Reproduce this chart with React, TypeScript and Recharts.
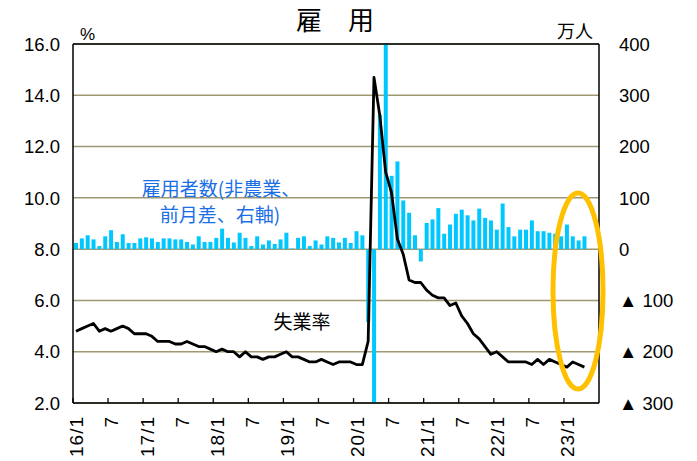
import React from 'react'
import {
  ComposedChart,
  Bar,
  Line,
  XAxis,
  YAxis,
  CartesianGrid,
  ReferenceLine,
} from 'recharts'

// 失業率 (%), 月次
const rate2016 = [4.8, 4.9, 5.0, 5.1, 4.8, 4.9, 4.8, 4.9, 5.0, 4.9, 4.7, 4.7]
const rate2017 = [4.7, 4.6, 4.4, 4.4, 4.4, 4.3, 4.3, 4.4, 4.3, 4.2, 4.2, 4.1]
const rate2018 = [4.0, 4.1, 4.0, 4.0, 3.8, 4.0, 3.8, 3.8, 3.7, 3.8, 3.8, 3.9]
const rate2019 = [4.0, 3.8, 3.8, 3.7, 3.6, 3.6, 3.7, 3.6, 3.5, 3.6, 3.6, 3.6]
const rate2020 = [3.5, 3.5, 4.4, 14.7, 13.2, 11.0, 10.2, 8.4, 7.8, 6.8, 6.7, 6.7]
const rate2021 = [6.4, 6.2, 6.1, 6.1, 5.8, 5.9, 5.4, 5.1, 4.7, 4.5, 4.2, 3.9]
const rate2022 = [4.0, 3.8, 3.6, 3.6, 3.6, 3.6, 3.5, 3.7, 3.5, 3.7, 3.6, 3.5]
const rate2023 = [3.4, 3.6, 3.5, 3.4]

// 雇用者数 (非農業、前月差、万人)
const jobs2016 = [12, 21, 27, 19, 6, 25, 37, 14, 29, 12, 12, 21]
const jobs2017 = [23, 21, 14, 21, 21, 19, 19, 14, 9, 25, 14, 14]
const jobs2018 = [22, 40, 22, 13, 32, 22, 6, 25, 9, 17, 10, 19]
const jobs2019 = [32, 1, 22, 25, 6, 17, 9, 25, 22, 13, 22, 12]
const jobs2020 = [35, 27, -142, -2050, 262, 485, 143, 171, 95, 71, 27, -24]
const jobs2021 = [51, 58, 80, 30, 48, 69, 77, 66, 56, 79, 61, 56]
const jobs2022 = [38, 89, 43, 25, 38, 38, 56, 35, 35, 32, 30, 25]
const jobs2023 = [48, 25, 17, 25]

const yearLabels = ['16', '17', '18', '19', '20', '21', '22', '23']
const MONTHS_SHOWN = 90 // 16/1 .. 23/6

const leftTicks = [2, 4, 6, 8, 10, 12, 14, 16]
const rightTicks = [-300, -200, -100, 0, 100, 200, 300, 400]

const rates = [
  ...rate2016, ...rate2017, ...rate2018, ...rate2019,
  ...rate2020, ...rate2021, ...rate2022, ...rate2023,
]
const jobs = [
  ...jobs2016, ...jobs2017, ...jobs2018, ...jobs2019,
  ...jobs2020, ...jobs2021, ...jobs2022, ...jobs2023,
]

const data = Array.from({ length: MONTHS_SHOWN }, (_, i) => ({
  month: `${yearLabels[Math.floor(i / 12)]}/${(i % 12) + 1}`,
  rate: rates[i],
  jobs: jobs[i],
}))

const W = 697
const H = 461
const PLOT_LEFT = 73
const PLOT_RIGHT = 599
const BAND = (PLOT_RIGHT - PLOT_LEFT) / MONTHS_SHOWN

const NUM_FONT = '"Liberation Sans", Arial, sans-serif'
const JP_FONT = '"Noto Sans CJK JP", sans-serif'

function MonthTick(props: any) {
  const { x, y, payload } = props
  const [yy, mm] = String(payload.value).split('/')
  if (mm !== '1' && mm !== '7') return <g />
  const label = mm === '1' ? `${yy}/1` : '7'
  const tx = x - BAND / 2
  return (
    <g>
      <line x1={tx} x2={tx} y1={y} y2={y - 5} stroke="#000" strokeWidth={1.3} />
      <text
        x={x + 1}
        y={y + 13}
        transform={`rotate(-90 ${x + 1} ${y + 13})`}
        textAnchor="end"
        dominantBaseline="central"
        fontFamily={NUM_FONT}
        fontSize={19}
        letterSpacing={1}
        fill="#000"
      >
        {label}
      </text>
    </g>
  )
}

function LeftTick(props: any) {
  const { x, y, payload } = props
  return (
    <text x={x - 13} y={y} dy="0.36em" textAnchor="end" fontFamily={NUM_FONT} fontSize={18.5} fill="#000">
      {Number(payload.value).toFixed(1)}
    </text>
  )
}

function RightTick(props: any) {
  const { x, y, payload } = props
  const v = Number(payload.value)
  const label = v < 0 ? `▲ ${-v}` : `${v}`
  return (
    <text x={x + 20} y={y} dy="0.36em" textAnchor="start" fontFamily={NUM_FONT} fontSize={18.5} fill="#000">
      {label}
    </text>
  )
}

export default function App() {
  return (
    <div style={{ position: 'absolute', left: 0, top: 0, width: W, height: H, background: '#fff' }}>
      <ComposedChart
        width={W}
        height={H}
        data={data}
        margin={{ top: 44, right: 0, bottom: 0, left: 0 }}
        barCategoryGap={0}
      >
        <CartesianGrid
          yAxisId="left"
          vertical={false}
          stroke="#a09870"
          strokeWidth={1.5}
        />
        <XAxis
          dataKey="month"
          interval={0}
          height={58}
          tickSize={0}
          tickMargin={0}
          tickLine={false}
          axisLine={{ stroke: '#000', strokeWidth: 1.5 }}
          tick={<MonthTick />}
        />
        <YAxis
          yAxisId="left"
          orientation="left"
          width={73}
          domain={[2, 16]}
          ticks={leftTicks}
          allowDataOverflow
          tickSize={0}
          tickMargin={0}
          tickLine={false}
          axisLine={{ stroke: '#000', strokeWidth: 1.5 }}
          tick={<LeftTick />}
        />
        <YAxis
          yAxisId="right"
          orientation="right"
          width={98}
          domain={[-300, 400]}
          ticks={rightTicks}
          allowDataOverflow
          tickSize={0}
          tickMargin={0}
          tickLine={false}
          axisLine={{ stroke: '#000', strokeWidth: 1.5 }}
          tick={<RightTick />}
        />
        <ReferenceLine yAxisId="left" y={16} stroke="#000" strokeWidth={1.5} />
        <Bar
          yAxisId="right"
          dataKey="jobs"
          fill="#00c8ff"
          barSize={4}
          isAnimationActive={false}
        />
        <Line
          yAxisId="left"
          dataKey="rate"
          type="linear"
          stroke="#000"
          strokeWidth={2.8}
          strokeLinejoin="round"
          dot={false}
          activeDot={false}
          connectNulls={false}
          isAnimationActive={false}
        />
      </ComposedChart>
      <svg
        width={W}
        height={H}
        style={{ position: 'absolute', left: 0, top: 0, pointerEvents: 'none' }}
      >
        <text x={335} y={30} textAnchor="middle" fontFamily={JP_FONT} fontSize={26} fill="#000">
          雇　用
        </text>
        <text x={80} y={40} fontFamily={NUM_FONT} fontSize={17} fill="#000">
          %
        </text>
        <text x={557} y={38} fontFamily={JP_FONT} fontSize={18} fill="#000">
          万人
        </text>
        <text x={221} y={196} textAnchor="middle" fontFamily={JP_FONT} fontSize={19} fill="#1a6ee6">
          雇用者数(非農業、
        </text>
        <text x={220} y={222} textAnchor="middle" fontFamily={JP_FONT} fontSize={19} fill="#1a6ee6">
          前月差、右軸)
        </text>
        <text x={302} y={329} textAnchor="middle" fontFamily={JP_FONT} fontSize={19} fill="#000">
          失業率
        </text>
        <ellipse cx={578} cy={291} rx={25} ry={98} fill="none" stroke="#ffc000" strokeWidth={5} />
      </svg>
    </div>
  )
}
